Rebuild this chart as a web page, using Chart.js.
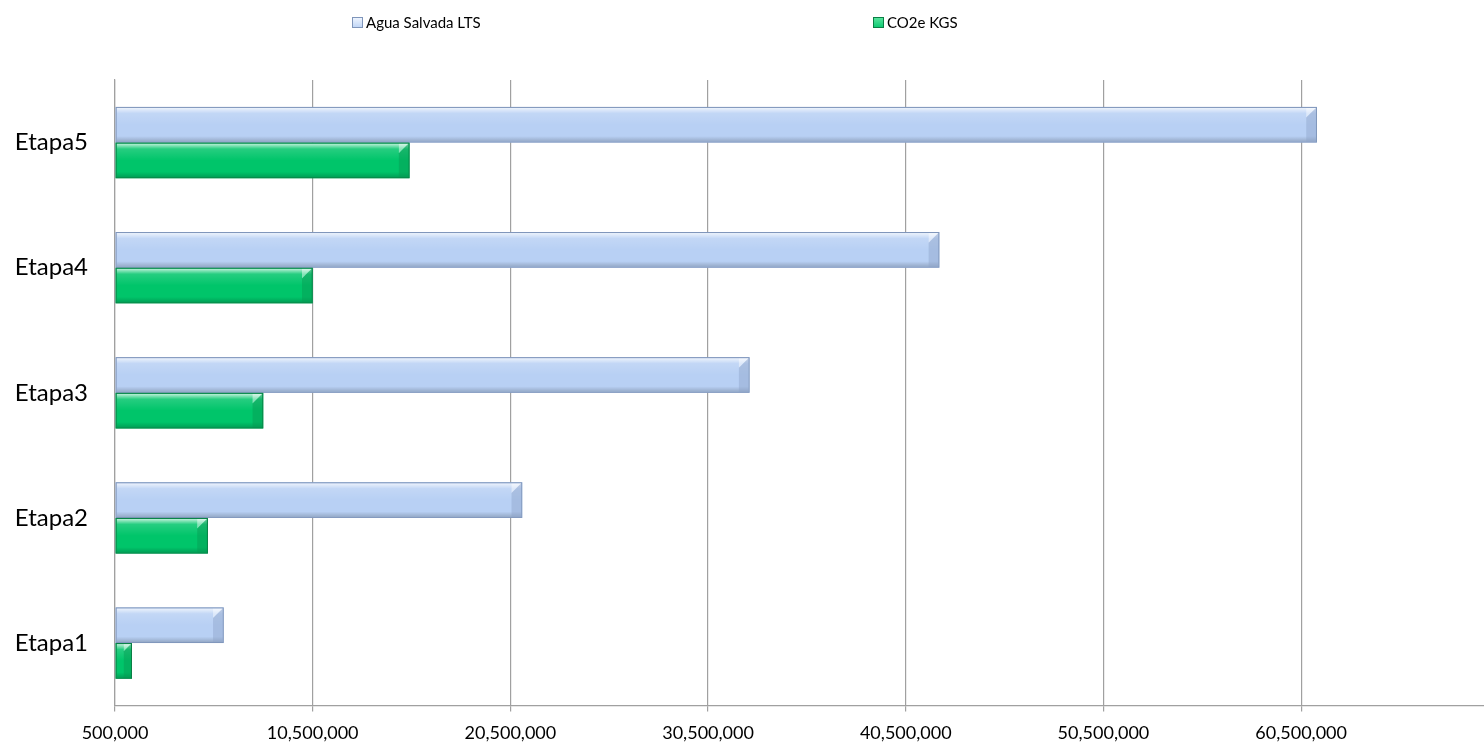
<!DOCTYPE html>
<html>
<head>
<meta charset="utf-8">
<script src="https://cdn.jsdelivr.net/npm/chart.js@4"></script>
<style>
  html, body { margin: 0; padding: 0; background: #fff; }
  #wrap { width: 1484px; height: 747px; position: relative; }
</style>
</head>
<body>
<div id="wrap"><canvas id="etapas"></canvas></div>
<script>
// categories, bottom to top
var etapas = ["Etapa1", "Etapa2", "Etapa3", "Etapa4", "Etapa5"];
var aguaLts = [6000000, 21100000, 32600000, 42200000, 61300000];
var co2Kgs = [1360000, 5200000, 8000000, 10500000, 15400000];
var xTicks = [500000, 10500000, 20500000, 30500000, 40500000, 50500000, 60500000];

var seriesNames = ["Agua Salvada LTS", "CO2e KGS"];
var fills = ["#b8d0f4", "#00c56a"];
var edges = ["#7f95ba", "#0a7f45"];
var darks = ["#8da4c9", "#079a52"];

// bevel look for each bar, using the bar elements the library placed
var bevel = {
  id: "bevel",
  afterDatasetsDraw: function(chart) {
    var ctx = chart.ctx;
    ctx.save();
    chart.data.datasets.forEach(function(ds, i) {
      chart.getDatasetMeta(i).data.forEach(function(bar) {
        var top = bar.y - bar.height / 2, h = bar.height;
        var left = bar.base, right = bar.x;
        var g = ctx.createLinearGradient(0, top, 0, top + h);
        g.addColorStop(0, "rgba(255,255,255,0.85)");
        g.addColorStop(0.18, "rgba(255,255,255,0.15)");
        g.addColorStop(0.5, "rgba(255,255,255,0)");
        g.addColorStop(0.82, "rgba(0,0,0,0)");
        g.addColorStop(1, "rgba(0,0,0,0.22)");
        ctx.fillStyle = g;
        ctx.fillRect(left + 1, top + 1, right - left - 2, h - 2);
        // right end bevel: light upper triangle, darker lower part
        var b = Math.min(h * 0.3, (right - left) / 2);
        ctx.globalAlpha = 0.45;
        ctx.fillStyle = "#ffffff";
        ctx.beginPath();
        ctx.moveTo(right - 1, top + 1);
        ctx.lineTo(right - b, top + b);
        ctx.lineTo(right - b, top + 1);
        ctx.closePath();
        ctx.fill();
        ctx.fillStyle = darks[i];
        ctx.beginPath();
        ctx.moveTo(right - 1, top + 1);
        ctx.lineTo(right - 1, top + h - 1);
        ctx.lineTo(right - b, top + h - 1);
        ctx.lineTo(right - b, top + b);
        ctx.closePath();
        ctx.fill();
        ctx.globalAlpha = 1;
        ctx.strokeStyle = edges[i];
        ctx.lineWidth = 1;
        ctx.strokeRect(left + 0.5, top + 0.5, right - left - 1, h - 1);
      });
    });
    ctx.restore();
  }
};

// legend spread like the original
var spreadLegend = {
  id: "spreadLegend",
  afterDraw: function(chart) {
    var ctx = chart.ctx;
    var xs = [352, 873];
    ctx.save();
    ctx.font = "15px Lato";
    ctx.textBaseline = "middle";
    seriesNames.forEach(function(name, i) {
      var g = ctx.createLinearGradient(0, 17, 0, 29);
      g.addColorStop(0, i ? "#5fe6a0" : "#f2f7ff");
      g.addColorStop(1, fills[i]);
      ctx.fillStyle = g;
      ctx.fillRect(xs[i], 17, 11, 11);
      ctx.strokeStyle = edges[i];
      ctx.strokeRect(xs[i] + 0.5, 17.5, 10, 10);
      ctx.fillStyle = "#000";
      ctx.fillText(name, xs[i] + 14, 23);
    });
    ctx.restore();
  }
};

new Chart("etapas", {
  type: "bar",
  data: {
    labels: etapas,
    datasets: [{
      label: seriesNames[0],
      data: aguaLts,
      backgroundColor: fills[0],
      borderWidth: 0,
      base: xTicks[0]
    }, {
      label: seriesNames[1],
      data: co2Kgs,
      backgroundColor: fills[1],
      borderWidth: 0,
      base: xTicks[0]
    }]
  },
  options: {
    indexAxis: "y",
    responsive: true,
    maintainAspectRatio: false,
    animation: false,
    categoryPercentage: 0.57,
    barPercentage: 1,
    layout: {padding: {top: 80, left: 15, right: 0, bottom: 3}},
    plugins: {
      legend: {display: false},
      tooltip: {enabled: false}
    },
    scales: {
      x: {
        min: xTicks[0],
        max: 69750000,
        afterBuildTicks: function(scale) {
          scale.ticks = xTicks.map(function(v) { return {value: v}; });
        },
        afterFit: function(scale) { scale.height = 38; },
        grid: {color: "#a0a0a0", lineWidth: 1.2, tickLength: 6, tickColor: "#a0a0a0"},
        border: {color: "#a0a0a0", width: 1.2},
        ticks: {
          color: "#000",
          font: {family: "Lato", size: 18},
          padding: 11,
          maxRotation: 0,
          callback: function(v) { return v.toLocaleString("en-US"); }
        }
      },
      y: {
        reverse: true,
        afterFit: function(scale) { scale.width = 100; },
        grid: {display: false, drawTicks: false},
        border: {display: true, color: "#a0a0a0", width: 1.2},
        ticks: {color: "#000", font: {family: "Lato", size: 24}, padding: 27}
      }
    }
  },
  plugins: [bevel, spreadLegend]
});
</script>
</body>
</html>
